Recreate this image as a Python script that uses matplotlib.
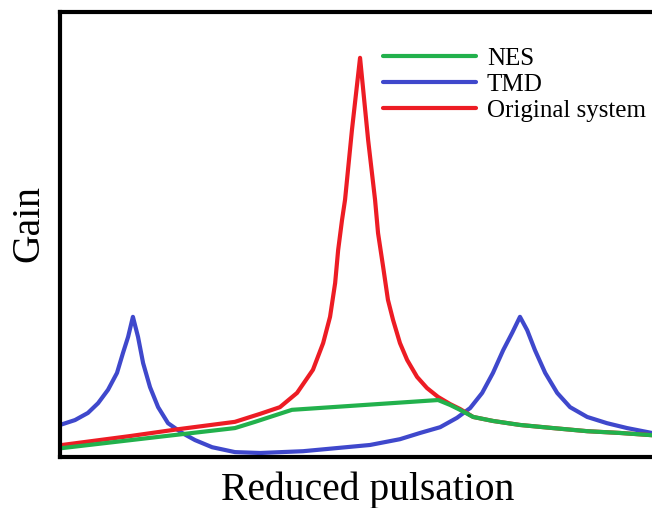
import matplotlib.pyplot as plt
from matplotlib.lines import Line2D

# reduced pulsation / gain readings (arbitrary units, peak of original system at 1)
orig_w = [0.007, 0.233, 0.400, 0.583, 0.667, 0.733, 0.790, 0.843, 0.877, 0.900,
          0.917, 0.927, 0.940, 0.950, 0.973, 1.0, 1.027, 1.050, 1.060, 1.077,
          1.093, 1.110, 1.133, 1.157, 1.190, 1.223, 1.260, 1.300, 1.333, 1.377,
          1.443, 1.533, 1.643, 1.757, 1.867, 1.973]
orig_g = [0.27, 0.47, 0.63, 0.79, 0.97, 1.12, 1.44, 1.96, 2.56, 3.15,
          3.91, 4.65, 5.33, 5.78, 7.35, 8.97, 7.12, 5.78, 5.03, 4.27,
          3.53, 3.08, 2.56, 2.18, 1.80, 1.55, 1.35, 1.19, 1.08, 0.90,
          0.81, 0.72, 0.65, 0.58, 0.54, 0.49]

nes_w = [0.007, 0.300, 0.583, 0.650, 0.700, 0.773, 1.260, 1.300, 1.333, 1.377,
         1.443, 1.533, 1.643, 1.757, 1.867, 1.973]
nes_g = [0.20, 0.43, 0.65, 0.79, 0.90, 1.06, 1.28, 1.17, 1.06, 0.90,
         0.81, 0.72, 0.65, 0.58, 0.54, 0.49]

tmd_w = [0.0, 0.050, 0.093, 0.127, 0.160, 0.190, 0.210, 0.227, 0.243, 0.260,
         0.277, 0.300, 0.327, 0.360, 0.407, 0.450, 0.507, 0.583, 0.667, 0.810,
         1.033, 1.133, 1.200, 1.267, 1.323, 1.367, 1.407, 1.443, 1.477, 1.507,
         1.533, 1.557, 1.583, 1.617, 1.657, 1.700, 1.757, 1.823, 1.890, 1.973]
tmd_g = [0.72, 0.83, 0.99, 1.21, 1.51, 1.89, 2.34, 2.70, 3.15, 2.70,
         2.11, 1.57, 1.12, 0.76, 0.54, 0.38, 0.22, 0.11, 0.09, 0.13,
         0.27, 0.40, 0.54, 0.67, 0.88, 1.10, 1.44, 1.89, 2.40, 2.79,
         3.15, 2.85, 2.40, 1.89, 1.44, 1.12, 0.90, 0.76, 0.65, 0.54]

labels = ["NES", "TMD", "Original system"]
colors = ["#22b14c", "#3f48cc", "#ed1c24"]

fig = plt.figure(figsize=(6.52, 5.08), dpi=100)
ax = fig.add_axes([60 / 652, 51 / 508, 1 - 60 / 652, 445 / 508])

lw = 3.0
style = dict(lw=lw, solid_joinstyle="round", solid_capstyle="round")
ax.plot(tmd_w, tmd_g, color=colors[1], **style)
ax.plot(orig_w, orig_g, color=colors[2], **style)
ax.plot(nes_w, nes_g, color=colors[0], **style)

ax.set_xlim(0, 1.973)
ax.set_ylim(0, 10)
ax.set_xticks([])
ax.set_yticks([])
ax.spines["right"].set_visible(False)
for s in ["left", "top", "bottom"]:
    ax.spines[s].set_linewidth(3)
    ax.spines[s].set_color("black")

serif = "Liberation Serif"
handles = [Line2D([], [], color=c, lw=lw, solid_capstyle="round") for c in colors]
fig.legend(handles, labels, loc="upper left", bbox_to_anchor=(383 / 652, 1 - 47 / 508),
           frameon=False, borderpad=0, borderaxespad=0, handlelength=3.7,
           handletextpad=0.45, labelspacing=0.15, prop={"family": serif, "size": 18})

fig.text(368 / 652, 1 - 500 / 508, "Reduced pulsation", family=serif, fontsize=28.5,
         ha="center", va="baseline")
fig.text(29 / 652, 1 - 223 / 508, "Gain", family=serif, fontsize=28.5,
         rotation=90, ha="center", va="center")

fig.savefig("out.png", dpi=100)
